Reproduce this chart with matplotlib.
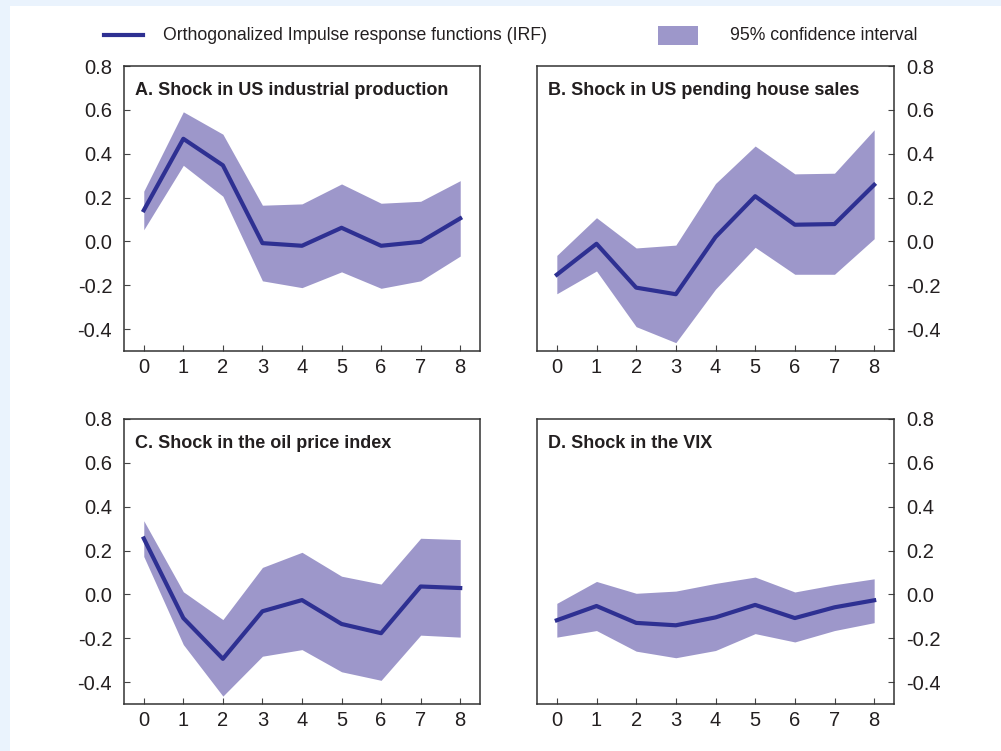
import matplotlib.pyplot as plt
from matplotlib.patches import Rectangle
from matplotlib.lines import Line2D

plt.rcParams['font.family'] = ['Liberation Sans', 'DejaVu Sans']

horizons = [0, 1, 2, 3, 4, 5, 6, 7, 8]
y_ticks = [-0.4, -0.2, 0.0, 0.2, 0.4, 0.6, 0.8]

titles = ['A. Shock in US industrial production',
          'B. Shock in US pending house sales',
          'C. Shock in the oil price index',
          'D. Shock in the VIX']

irf_a = [0.142, 0.468, 0.347, -0.008, -0.020, 0.062, -0.020, -0.002, 0.105]
upper_a = [0.229, 0.591, 0.489, 0.165, 0.171, 0.262, 0.174, 0.183, 0.277]
lower_a = [0.053, 0.347, 0.206, -0.180, -0.211, -0.139, -0.214, -0.180, -0.067]

irf_b = [-0.152, -0.011, -0.211, -0.241, 0.020, 0.206, 0.076, 0.079, 0.258]
upper_b = [-0.064, 0.108, -0.030, -0.017, 0.264, 0.435, 0.308, 0.311, 0.509]
lower_b = [-0.239, -0.135, -0.389, -0.462, -0.218, -0.027, -0.150, -0.150, 0.012]

irf_c = [0.255, -0.108, -0.294, -0.077, -0.026, -0.135, -0.177, 0.036, 0.029]
upper_c = [0.336, 0.012, -0.115, 0.123, 0.192, 0.083, 0.047, 0.256, 0.250]
lower_c = [0.173, -0.229, -0.464, -0.282, -0.252, -0.353, -0.392, -0.186, -0.195]

irf_d = [-0.118, -0.053, -0.130, -0.141, -0.105, -0.048, -0.108, -0.059, -0.027]
upper_d = [-0.041, 0.059, 0.005, 0.015, 0.050, 0.079, 0.011, 0.044, 0.071]
lower_d = [-0.195, -0.165, -0.259, -0.289, -0.256, -0.179, -0.217, -0.165, -0.129]

panels = [(irf_a, upper_a, lower_a), (irf_b, upper_b, lower_b),
          (irf_c, upper_c, lower_c), (irf_d, upper_d, lower_d)]

line_col = '#2E3092'
band_col = '#9D97CA'
text_col = '#231F20'

W, H = 1001, 751
fig = plt.figure(figsize=(W / 100, H / 100), dpi=100)
fig.patch.set_facecolor('#EAF3FD')
fig.add_artist(Rectangle((10 / W, 0), 1 - 10 / W, 1 - 6 / H, transform=fig.transFigure,
                         facecolor='white', edgecolor='none', zorder=0))

# axes boxes in pixels: left, top, right, bottom
boxes = [(124, 66, 480, 351), (537, 66, 894, 351),
         (124, 419, 480, 704), (537, 419, 894, 704)]

for i, (box, (irf, up, lo)) in enumerate(zip(boxes, panels)):
    l, t, r, b = box
    ax = fig.add_axes([l / W, 1 - b / H, (r - l) / W, (b - t) / H])
    ax.fill_between(horizons, lo, up, color=band_col, linewidth=0)
    ax.plot(horizons, irf, color=line_col, linewidth=3)
    ax.set_xlim(-0.5, 8.5)
    ax.set_ylim(-0.5, 0.8)
    ax.set_xticks(horizons)
    ax.set_yticks(y_ticks)
    ax.set_yticklabels(['%.1f' % v for v in y_ticks])
    ax.tick_params(direction='in', length=4, width=0.8, colors='#444444',
                   labelcolor=text_col, labelsize=14.5)
    ax.tick_params(axis='x', pad=5)
    ax.tick_params(axis='y', pad=8.5)
    if i % 2 == 1:
        ax.yaxis.tick_right()
        ax.yaxis.set_label_position('right')
    for s in ax.spines.values():
        s.set_linewidth(1.1)
        s.set_color('#333333')
    ax.text(0.03, 0.945, titles[i], transform=ax.transAxes, fontsize=13,
            fontweight='bold', color=text_col, va='top', ha='left')

# legend at top
fig.add_artist(Line2D([104 / W, 143 / W], [1 - 35 / H, 1 - 35 / H], color=line_col,
                      linewidth=3, transform=fig.transFigure))
fig.text(163 / W, 1 - 35.5 / H, 'Orthogonalized Impulse response functions (IRF)',
         fontsize=12.7, color=text_col, va='center', ha='left')
fig.add_artist(Rectangle((658 / W, 1 - 45 / H), 40 / W, 19 / H, transform=fig.transFigure,
                         facecolor=band_col, edgecolor='none'))
fig.text(730 / W, 1 - 35.5 / H, '95% confidence interval',
         fontsize=12.7, color=text_col, va='center', ha='left')

fig.savefig('out.png', dpi=100)
